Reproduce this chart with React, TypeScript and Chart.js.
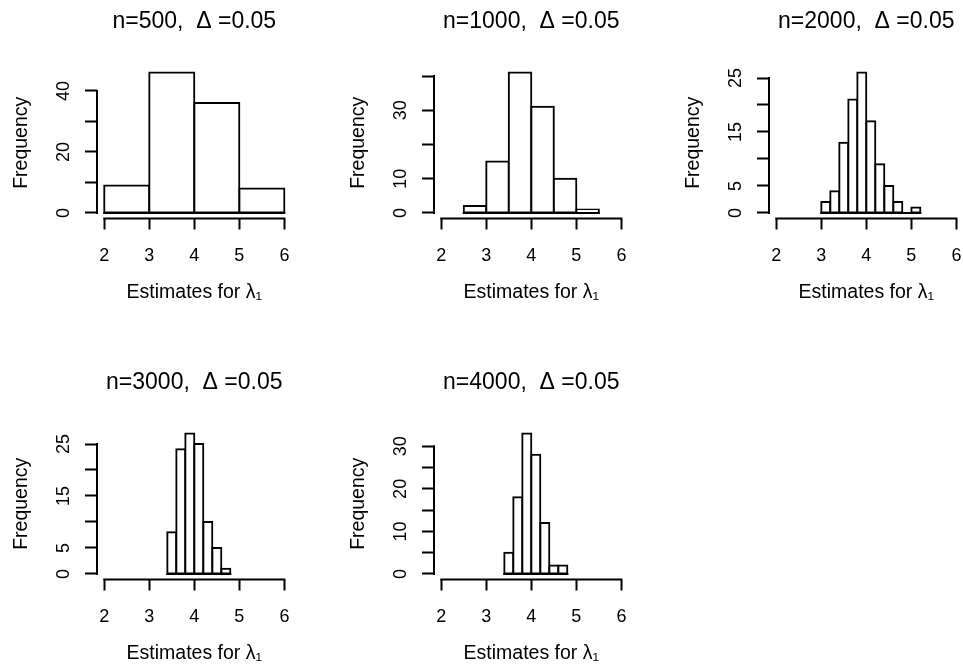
import React, { useEffect, useRef } from 'react';
import { Chart, registerables } from 'chart.js';

Chart.register(...registerables);

const FONT = "'Liberation Sans', Arial, Helvetica, sans-serif";

// x axis
const xLimits = [2, 6];
const xTicks = [2, 3, 4, 5, 6];
const xAxisTitle = 'Estimates for λ₁';
const yAxisTitle = 'Frequency';

// panel 1: n=500
const title1 = 'n=500,  Δ =0.05';
const breaks1 = [2, 3, 4, 5, 6];
const counts1 = [9, 46, 36, 8];
const yTicks1 = [0, 10, 20, 30, 40];
const yLabels1 = [0, 20, 40];

// panel 2: n=1000
const title2 = 'n=1000,  Δ =0.05';
const breaks2 = [2.5, 3, 3.5, 4, 4.5, 5, 5.5];
const counts2 = [2, 15, 41, 31, 10, 1];
const yTicks2 = [0, 10, 20, 30, 40];
const yLabels2 = [0, 10, 30];

// panel 3: n=2000
const title3 = 'n=2000,  Δ =0.05';
const breaks3 = [3.0, 3.2, 3.4, 3.6, 3.8, 4.0, 4.2, 4.4, 4.6, 4.8, 5.0, 5.2];
const counts3 = [2, 4, 13, 21, 26, 17, 9, 5, 2, 0, 1];
const yTicks3 = [0, 5, 10, 15, 20, 25];
const yLabels3 = [0, 5, 15, 25];

// panel 4: n=3000
const title4 = 'n=3000,  Δ =0.05';
const breaks4 = [3.4, 3.6, 3.8, 4.0, 4.2, 4.4, 4.6, 4.8];
const counts4 = [8, 24, 27, 25, 10, 5, 1];
const yTicks4 = [0, 5, 10, 15, 20, 25];
const yLabels4 = [0, 5, 15, 25];

// panel 5: n=4000
const title5 = 'n=4000,  Δ =0.05';
const breaks5 = [3.4, 3.6, 3.8, 4.0, 4.2, 4.4, 4.6, 4.8];
const counts5 = [5, 18, 33, 28, 12, 2, 2];
const yTicks5 = [0, 5, 10, 15, 20, 25, 30];
const yLabels5 = [0, 10, 20, 30];

const CANVAS_W = 330;
const CANVAS_H = 310;

const rAxesPlugin = {
  id: 'rAxes',
  afterDatasetsDraw(chart: any) {
    const { ctx, chartArea } = chart;
    const xs = chart.scales.x;
    const ys = chart.scales.y;
    const yt = chart.options.plugins.rAxes.yTicks as number[];
    ctx.save();
    ctx.strokeStyle = '#000';
    ctx.lineWidth = 2;
    ctx.lineCap = 'square';
    // y axis line between first and last tick
    ctx.beginPath();
    ctx.moveTo(chartArea.left, ys.getPixelForValue(yt[0]));
    ctx.lineTo(chartArea.left, ys.getPixelForValue(yt[yt.length - 1]));
    ctx.stroke();
    // x axis line between first and last tick
    ctx.beginPath();
    ctx.moveTo(xs.getPixelForValue(xTicks[0]), chartArea.bottom);
    ctx.lineTo(xs.getPixelForValue(xTicks[xTicks.length - 1]), chartArea.bottom);
    ctx.stroke();
    // histogram baseline (covers empty bins)
    const meta = chart.getDatasetMeta(0);
    const first = meta.data[0] as any;
    const last = meta.data[meta.data.length - 1] as any;
    if (first && last) {
      ctx.lineCap = 'butt';
      ctx.beginPath();
      const y0 = ys.getPixelForValue(0);
      ctx.moveTo(first.x - first.width / 2 - 1, y0);
      ctx.lineTo(last.x + last.width / 2 + 1, y0);
      ctx.stroke();
    }
    ctx.restore();
  },
};

type PanelProps = {
  title: string;
  breaks: number[];
  counts: number[];
  yTicks: number[];
  yLabels: number[];
  left: number;
  top: number;
};

function Panel({ title, breaks, counts, yTicks, yLabels, left, top }: PanelProps) {
  const ref = useRef<HTMLCanvasElement | null>(null);
  useEffect(() => {
    if (!ref.current) return;
    const maxCount = Math.max(...counts);
    const xPad = (xLimits[1] - xLimits[0]) * 0.04;
    const data = counts.map((c, i) => ({ x: (breaks[i] + breaks[i + 1]) / 2, y: c }));
    const chart = new Chart(ref.current, {
      type: 'bar',
      data: {
        datasets: [
          {
            data: data as any,
            backgroundColor: '#ffffff',
            borderColor: '#000000',
            borderWidth: 2,
            borderSkipped: false,
            inflateAmount: 1,
            barPercentage: 1,
            categoryPercentage: 1,
          } as any,
        ],
      },
      plugins: [rAxesPlugin],
      options: {
        responsive: false,
        animation: false,
        events: [],
        layout: { padding: { left: 0, top: 0, right: 38.4, bottom: 0 } },
        plugins: {
          legend: { display: false },
          tooltip: { enabled: false },
          title: {
            display: true,
            text: title,
            color: '#000',
            fullSize: false,
            font: { family: FONT, size: 23, weight: 'normal' },
            padding: { top: 7.7, bottom: 31.7 },
          },
          rAxes: { yTicks },
        } as any,
        scales: {
          x: {
            type: 'linear',
            min: xLimits[0] - xPad,
            max: xLimits[1] + xPad,
            offset: false,
            afterBuildTicks: (s: any) => {
              s.ticks = xTicks.map((v) => ({ value: v }));
            },
            afterFit: (s: any) => {
              s.height = 91.5;
            },
            border: { display: false },
            grid: {
              offset: false,
              drawOnChartArea: false,
              drawTicks: true,
              tickLength: 11,
              tickWidth: 2,
              tickColor: '#000',
            },
            ticks: {
              color: '#000',
              font: { family: FONT, size: 18 },
              padding: 16,
              maxRotation: 0,
              minRotation: 0,
              callback: (v: any) => String(v),
            },
            title: {
              display: true,
              text: xAxisTitle,
              color: '#000',
              font: { family: FONT, size: 19.5 },
              padding: { top: 0, bottom: 5.3 },
            },
          },
          y: {
            type: 'linear',
            min: -0.04 * maxCount,
            max: 1.04 * maxCount,
            afterBuildTicks: (s: any) => {
              s.ticks = yTicks.map((v) => ({ value: v }));
            },
            afterFit: (s: any) => {
              s.width = 97;
            },
            border: { display: false },
            grid: {
              drawOnChartArea: false,
              drawTicks: true,
              tickLength: 12,
              tickWidth: 2,
              tickColor: '#000',
            },
            ticks: {
              color: '#000',
              font: { family: FONT, size: 18 },
              padding: 11,
              minRotation: 90,
              maxRotation: 90,
              crossAlign: 'center',
              callback: (v: any) => (yLabels.includes(v) ? String(v) : ''),
            },
            title: {
              display: true,
              text: yAxisTitle,
              color: '#000',
              font: { family: FONT, size: 19.5 },
              padding: { top: 10.3, bottom: 0 },
            },
          },
        },
      } as any,
    });
    return () => chart.destroy();
  }, [title, breaks, counts, yTicks, yLabels]);
  return (
    <canvas
      ref={ref}
      width={CANVAS_W}
      height={CANVAS_H}
      style={{ position: 'absolute', left, top, width: CANVAS_W, height: CANVAS_H }}
    />
  );
}

export default function App() {
  return (
    <div
      style={{
        position: 'absolute',
        left: 0,
        top: 0,
        width: 963,
        height: 670,
        overflow: 'hidden',
        background: '#ffffff',
      }}
    >
      <Panel title={title1} breaks={breaks1} counts={counts1} yTicks={yTicks1} yLabels={yLabels1} left={0} top={0} />
      <Panel title={title2} breaks={breaks2} counts={counts2} yTicks={yTicks2} yLabels={yLabels2} left={337} top={0} />
      <Panel title={title3} breaks={breaks3} counts={counts3} yTicks={yTicks3} yLabels={yLabels3} left={672} top={0} />
      <Panel title={title4} breaks={breaks4} counts={counts4} yTicks={yTicks4} yLabels={yLabels4} left={0} top={361} />
      <Panel title={title5} breaks={breaks5} counts={counts5} yTicks={yTicks5} yLabels={yLabels5} left={337} top={361} />
    </div>
  );
}
